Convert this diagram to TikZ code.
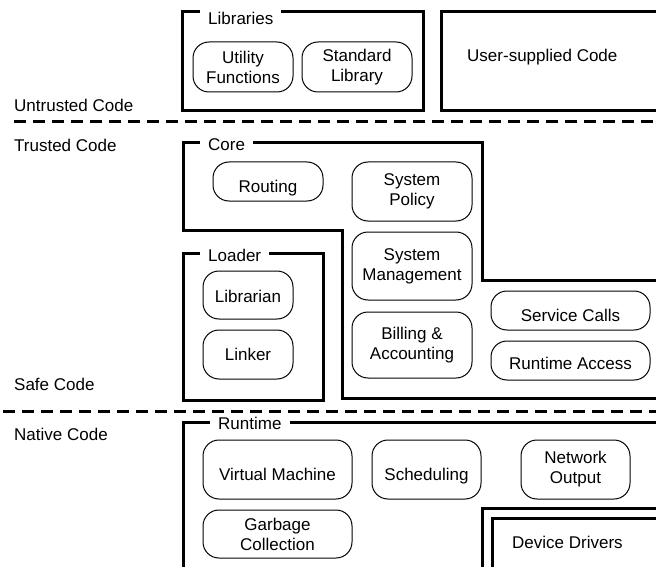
\documentclass[tikz,border=0pt]{standalone}
\usepackage{fontspec}
\setmainfont{Liberation Sans}
\begin{document}
\begin{tikzpicture}[x=1pt,y=-1pt,
  txt/.style={font=\fontsize{17}{20}\selectfont},
  rbox/.style={txt, draw, rounded corners=16pt, line width=1pt, align=center, inner sep=0pt},
  low/.style={text height=#1, text depth=0pt},
  frame/.style={draw, line width=3pt, line join=miter},
  tab/.style={txt, fill=white, inner xsep=8pt, inner ysep=3pt, anchor=base west},
  side/.style={txt, inner sep=0pt, anchor=base west},
  sep/.style={line width=3pt, dash pattern=on 12pt off 7pt}]
\useasboundingbox (0,0) rectangle (656,567);
\clip (0,0) rectangle (656,567);
\fill[white] (0,0) rectangle (656,567);

% separators
\coordinate (s1a) at (14,122);  \coordinate (s1b) at (660,122);
\coordinate (s2a) at (3,411);   \coordinate (s2b) at (660,411);
\draw[sep] (s1a) -- (s1b);
\draw[sep] (s2a) -- (s2b);

% side labels
\node[side] (untrusted) at (14,112) {Untrusted Code};
\node[side] (trusted) at (14,152) {Trusted Code};
\node[side] (safe) at (14,390) {Safe Code};
\node[side] (native) at (14,440) {Native Code};

% Libraries
\draw[frame] (182,12) rectangle (423,111);
\node[tab] (libs) at (200,25) {Libraries};
\node[rbox, minimum width=100pt, minimum height=50pt] (util) at (243,67) {Utility\\Functions};
\node[rbox, minimum width=110pt, minimum height=50pt] (stdlib) at (357,67) {Standard\\Library};

% User-supplied code
\draw[frame] (441,12) rectangle (680,111);
\node[side] (user) at (467,62) {User-supplied Code};

% Core
\draw[frame] (183,143) -- (482,143) -- (482,280) -- (680,280) -- (680,398)
  -- (342,398) -- (342,230) -- (183,230) -- cycle;
\node[tab] (core) at (200,151) {Core};
\node[rbox, low=21.2pt, minimum width=110pt, minimum height=39pt] (routing) at (268,181.5) {Routing};
\node[rbox, minimum width=120pt, minimum height=59pt] (syspol) at (412,191.5) {System\\Policy};
\node[rbox, minimum width=120pt, minimum height=68pt] (sysmgmt) at (412,266) {System\\Management};
\node[rbox, minimum width=120pt, minimum height=66pt] (billing) at (412,345) {Billing \&\\Accounting};
\node[rbox, low=22.2pt, minimum width=159pt, minimum height=39pt] (service) at (570.5,310.5) {Service Calls};
\node[rbox, low=18.2pt, minimum width=159pt, minimum height=39pt] (rtaccess) at (570.5,360.5) {Runtime Access};

% Loader
\draw[frame] (183,253) rectangle (323,400);
\node[tab] (loader) at (200,261) {Loader};
\node[rbox, low=14.2pt, minimum width=90pt, minimum height=48pt] (librarian) at (248,295) {Librarian};
\node[rbox, low=12.2pt, minimum width=90pt, minimum height=49pt] (linker) at (248,354.5) {Linker};

% Runtime
\draw[frame] (183,600) -- (183,422) -- (680,422);
\node[tab] (runtime) at (210,429) {Runtime};
\node[rbox, low=21.2pt, minimum width=149pt, minimum height=59pt] (vm) at (277.5,469.5) {Virtual Machine};
\node[rbox, minimum width=149pt, minimum height=48pt] (gc) at (277.5,534) {Garbage\\Collection};
\node[rbox, low=21.2pt, minimum width=109pt, minimum height=59pt] (sched) at (426.5,469.5) {Scheduling};
\node[rbox, minimum width=109pt, minimum height=59pt] (netout) at (575.5,469.5) {Network\\Output};

% Device drivers
\draw[frame] (482,600) -- (482,508) -- (680,508);
\draw[frame] (492,600) -- (492,518) -- (680,518);
\node[side] (drivers) at (512,548) {Device Drivers};
\end{tikzpicture}
\end{document}
